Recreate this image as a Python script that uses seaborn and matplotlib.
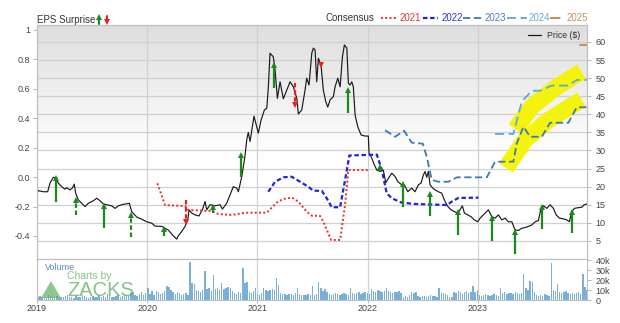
import numpy as np
import pandas as pd
import matplotlib
matplotlib.use("Agg")
import matplotlib.pyplot as plt
import seaborn as sns
from matplotlib.lines import Line2D
from matplotlib.patches import Polygon
from matplotlib.colors import LinearSegmentedColormap

# ---------------- data ----------------
price_t = [2019.000, 2019.012, 2019.057, 2019.097, 2019.118, 2019.148, 2019.170, 2019.193, 2019.224, 2019.254,
           2019.270, 2019.299, 2019.320, 2019.338, 2019.351, 2019.375, 2019.406, 2019.436, 2019.466, 2019.511,
           2019.542, 2019.572, 2019.602, 2019.632, 2019.678, 2019.708, 2019.738, 2019.769, 2019.799, 2019.838,
           2019.859, 2019.905, 2019.950, 2019.995, 2020.041, 2020.071, 2020.132, 2020.191, 2020.237, 2020.268,
           2020.282, 2020.313, 2020.343, 2020.368, 2020.379, 2020.404, 2020.434, 2020.470, 2020.500, 2020.525,
           2020.540, 2020.570, 2020.615, 2020.661, 2020.682, 2020.721, 2020.751, 2020.781, 2020.812, 2020.827,
           2020.858, 2020.887, 2020.903, 2020.917, 2020.933, 2020.969, 2021.008, 2021.033, 2021.063, 2021.085,
           2021.099, 2021.114, 2021.144, 2021.160, 2021.181, 2021.205, 2021.235, 2021.266, 2021.296, 2021.326,
           2021.357, 2021.371, 2021.402, 2021.432, 2021.447, 2021.468, 2021.493, 2021.507, 2021.523, 2021.538,
           2021.553, 2021.577, 2021.598, 2021.620, 2021.638, 2021.659, 2021.689, 2021.704, 2021.729, 2021.750,
           2021.771, 2021.789, 2021.811, 2021.825, 2021.840, 2021.856, 2021.870, 2021.886, 2021.910, 2021.940,
           2021.976, 2022.006, 2022.013, 2022.037, 2022.061, 2022.083, 2022.113, 2022.142, 2022.164, 2022.188,
           2022.219, 2022.249, 2022.273, 2022.309, 2022.333, 2022.364, 2022.400, 2022.430, 2022.460, 2022.485,
           2022.505, 2022.521, 2022.536, 2022.551, 2022.566, 2022.591, 2022.612, 2022.641, 2022.672, 2022.696,
           2022.727, 2022.757, 2022.787, 2022.818, 2022.838, 2022.859, 2022.878, 2022.908, 2022.938, 2022.968,
           2022.999, 2023.020, 2023.065, 2023.095, 2023.126, 2023.156, 2023.186, 2023.217, 2023.247, 2023.277,
           2023.308, 2023.338, 2023.368, 2023.398, 2023.428, 2023.458, 2023.489, 2023.519, 2023.549, 2023.571,
           2023.595, 2023.625, 2023.655, 2023.685, 2023.710, 2023.740, 2023.776, 2023.807, 2023.830, 2023.852,
           2023.876, 2023.912, 2023.943, 2023.964, 2023.988]
price_v = [18.2, 18.9, 18.6, 18.6, 21.0, 22.6, 22.3, 21.0, 20.0, 19.3,
           19.7, 19.1, 19.6, 20.7, 18.2, 16.3, 15.4, 14.5, 15.4, 16.1,
           16.8, 16.1, 15.2, 15.0, 14.7, 14.0, 14.7, 15.0, 15.2, 15.4,
           13.1, 11.6, 11.0, 10.3, 9.9, 9.1, 9.0, 8.0, 6.4, 5.5,
           6.4, 7.6, 9.0, 10.8, 13.6, 12.7, 12.2, 11.9, 13.6, 15.9,
           13.6, 15.0, 14.7, 15.0, 13.8, 15.4, 17.7, 20.0, 19.6, 18.6,
           22.8, 28.5, 33.0, 35.0, 32.5, 39.5, 34.8, 38.4, 41.2, 41.7,
           47.6, 56.9, 55.9, 52.3, 44.4, 49.0, 44.3, 46.7, 49.0, 47.6,
           44.4, 40.1, 41.2, 46.7, 50.0, 48.1, 56.9, 58.3, 57.8, 49.0,
           55.5, 53.6, 46.7, 43.5, 42.0, 44.0, 44.9, 47.6, 50.0, 47.6,
           55.9, 59.2, 58.3, 48.6, 48.1, 49.0, 47.6, 39.8, 36.6, 34.3,
           34.0, 34.0, 29.2, 27.9, 26.0, 24.6, 24.2, 24.6, 21.1, 22.3,
           23.7, 22.8, 21.4, 20.5, 20.5, 18.6, 19.6, 18.6, 20.5, 21.0,
           23.2, 24.2, 22.6, 24.2, 20.5, 19.6, 19.1, 18.6, 18.2, 16.3,
           14.5, 13.6, 13.1, 12.7, 13.6, 14.7, 12.7, 12.2, 11.7, 10.8,
           10.3, 11.3, 12.7, 13.6, 11.7, 11.3, 12.2, 10.8, 11.3, 10.3,
           10.3, 8.0, 7.9, 8.5, 8.7, 9.0, 9.4, 10.3, 10.6, 13.8,
           14.7, 14.0, 15.0, 14.0, 12.2, 11.3, 11.1, 10.8, 10.3, 13.1,
           14.0, 14.2, 14.3, 15.0, 15.2]

# EPS surprise arrows (left axis, EPS $): consensus (tail) -> actual (head)
eps_t = [2019.170, 2019.354, 2019.608, 2019.853, 2020.155, 2020.349, 2020.594, 2020.851, 2021.153, 2021.341,
         2021.577, 2021.825, 2022.113, 2022.324, 2022.569, 2022.818, 2023.126, 2023.338, 2023.580, 2023.852]
eps_cons = [-0.167, -0.258, -0.348, -0.409, -0.400, -0.156, -0.242, -0.002, 0.601, 0.635,
            0.775, 0.436, 0.036, -0.205, -0.264, -0.393, -0.432, -0.522, -0.355, -0.382]
eps_actual = [-0.009, -0.156, -0.195, -0.258, -0.355, -0.303, -0.205, 0.149, 0.759, 0.488,
              0.759, 0.590, 0.070, -0.047, -0.115, -0.235, -0.280, -0.371, -0.205, -0.235]
eps_dashed = [0, 1, 0, 1, 0, 1, 0, 0, 0, 1, 0, 0, 0, 0, 0, 0, 0, 0, 0, 0]

# Consensus estimate lines (left axis, EPS $)
c2021_t = [2020.092, 2020.162, 2020.343, 2020.373, 2020.585, 2020.645, 2020.767, 2020.887, 2021.084, 2021.175,
           2021.232, 2021.314, 2021.371, 2021.447, 2021.493, 2021.568, 2021.598, 2021.643, 2021.668, 2021.750,
           2021.795, 2021.825, 2022.006]
c2021_v = [-0.043, -0.190, -0.197, -0.224, -0.231, -0.251, -0.258, -0.242, -0.242, -0.174,
           -0.149, -0.140, -0.167, -0.235, -0.262, -0.264, -0.303, -0.382, -0.427, -0.427,
           -0.190, 0.047, 0.047]
c2022_t = [2021.099, 2021.160, 2021.235, 2021.311, 2021.387, 2021.462, 2021.507, 2021.583, 2021.629, 2021.674,
           2021.750, 2021.795, 2021.834, 2022.083, 2022.128, 2022.173, 2022.219, 2022.309, 2022.430, 2022.718,
           2022.763, 2022.823, 2023.005]
c2022_v = [-0.100, -0.032, -0.002, 0.002, -0.032, -0.066, -0.093, -0.093, -0.144, -0.205,
           -0.205, -0.020, 0.146, 0.152, 0.050, -0.110, -0.144, -0.174, -0.183, -0.190,
           -0.167, -0.142, -0.140]
c2023_t = [2022.158, 2022.249, 2022.330, 2022.400, 2022.500, 2022.536, 2022.582, 2022.641, 2022.732, 2022.811,
           2023.081, 2023.156, 2023.322, 2023.353, 2023.413, 2023.474, 2023.580, 2023.655, 2023.821, 2023.897,
           2023.988]
c2023_v = [0.317, 0.273, 0.314, 0.233, 0.226, 0.138, -0.020, -0.032, -0.032, -0.002,
           -0.002, 0.104, 0.104, 0.228, 0.341, 0.273, 0.273, 0.368, 0.368, 0.473,
           0.473]
c2024_t = [2023.156, 2023.322, 2023.398, 2023.489, 2023.564, 2023.670, 2023.821, 2023.897, 2023.988]
c2024_v = [0.292, 0.292, 0.511, 0.585, 0.585, 0.620, 0.620, 0.658, 0.658]
c2025_t = [2023.927, 2023.990]
c2025_v = [0.895, 0.895]

# yellow highlighter strokes
hl_a_t = [2023.340, 2023.489, 2023.700, 2023.940]
hl_a_v = [0.325, 0.477, 0.603, 0.715]
hl_b_t = [2023.255, 2023.428, 2023.640, 2023.940]
hl_b_v = [0.062, 0.251, 0.386, 0.525]

# weekly volume (thousands)
volume_k = [3, 4, 3, 2, 3, 5, 4, 3, 3, 4, 2, 3, 3, 4, 5, 3, 3, 2, 4, 3, 3, 5, 4, 3, 2, 3, 4, 3, 3, 5,
            3, 4, 3, 6, 4, 3, 3, 4, 5, 3, 4, 6, 5, 4, 7,
            8, 5, 4, 6, 8, 5, 7, 12, 6, 9, 5, 9, 8, 6, 7, 9,
            14, 13, 10, 8, 6, 8, 7, 5, 6, 7, 5,
            38,
            17, 16, 10, 9, 8, 10, 29, 11,
            12, 9, 25, 11, 12, 10, 17, 11, 12,
            13, 12, 9, 7, 6, 8, 7,
            32, 17, 18,
            8, 7, 9, 12, 6, 5, 7,
            12, 10, 9, 10, 11, 10,
            22, 15,
            7, 6, 6, 5, 6, 6, 5, 7,
            12,
            6, 5, 5, 5, 6, 5,
            14, 5, 6, 18, 12, 9, 11, 8,
            6, 5, 6, 7, 6, 5, 6, 7, 6, 5,
            12,
            7, 6, 7, 8, 6, 7, 8, 7, 6,
            11, 9, 8, 10, 9, 8, 9,
            12, 9, 8, 7, 8, 8, 9, 7,
            3, 4, 3, 5,
            8, 7, 8, 4,
            3, 4, 4, 3, 4, 5, 4, 4, 3,
            12, 7, 7, 6, 5, 3, 3,
            8, 7, 9, 8, 6, 8, 9, 7, 8,
            14, 8, 10,
            5, 4, 5, 6, 5, 4, 5, 6, 5, 4,
            12, 7, 8, 6, 7, 7, 6, 8, 7, 6, 7,
            26, 12, 10, 19, 18, 8,
            5, 4, 5, 4, 6, 5, 4,
            37, 10, 9, 16, 8, 7, 8, 9,
            7, 6, 7, 6, 7, 8, 6,
            26, 13, 10]

years = [2019, 2020, 2021, 2022, 2023]
price_ticks = [5, 10, 15, 20, 25, 30, 35, 40, 45, 50, 55, 60]
eps_ticks = [1.0, 0.8, 0.6, 0.4, 0.2, 0.0, -0.2, -0.4]
eps_labels = ["1", "0.8", "0.6", "0.4", "0.2", "0.0", "-0.2", "-0.4"]
vol_ticks = [0, 10, 20, 30, 40]
vol_labels = ["0", "10k", "20k", "30k", "40k"]

# ---------------- figure ----------------
sns.set_theme(style="white")
plt.rcParams['font.family'] = ['Liberation Sans', 'DejaVu Sans']

W, H = 620, 323
fig = plt.figure(figsize=(W / 100, H / 100), dpi=100)
fig.patch.set_facecolor("white")

X0, X1 = 37, 587
ax = fig.add_axes([X0 / W, 1 - 259 / H, (X1 - X0) / W, (259 - 25) / H])   # price (right)
axE = ax.twinx()                                                          # EPS (left)
ax.yaxis.tick_right()
axE.yaxis.tick_left()
axv = fig.add_axes([X0 / W, 1 - 300 / H, (X1 - X0) / W, (300 - 259) / H])  # volume

XL = (2019.0, 2023.99)
GRID = "#d0d0d0"
TXT = "#444444"

# background gradient
cmap = LinearSegmentedColormap.from_list("bg", [(0, "#ffffff"), (0.45, "#ffffff"), (1, "#dedede")])
ax.imshow(np.linspace(0, 1, 256).reshape(-1, 1), extent=[0, 1, 0, 1], transform=ax.transAxes,
          cmap=cmap, aspect="auto", origin="lower", zorder=0)

# price line
sns.lineplot(x=price_t, y=price_v, ax=ax, sort=False, estimator=None, color="#1a1a1a", lw=0.85, zorder=3)
ax.set_xlim(*XL)
ax.set_ylim(0, 64.7)
ax.set_yticks(price_ticks)
ax.set_yticklabels([str(v) for v in price_ticks])
ax.set_xticks(years)
ax.set_xticklabels([])
ax.grid(True, color=GRID, lw=0.9)
ax.set_axisbelow(True)
ax.tick_params(axis="y", right=True, length=3, width=0.6, color="#aaaaaa", labelsize=6.5, labelcolor=TXT, pad=3)
ax.tick_params(axis="x", bottom=False, length=0)
ax.set_xlabel("")
ax.set_ylabel("")

# EPS axis
axE.set_xlim(*XL)
axE.set_ylim(-0.556, 1.031)
axE.set_yticks(eps_ticks)
axE.set_yticklabels(eps_labels)
axE.tick_params(axis="y", left=True, right=False, length=3, width=0.6, color="#aaaaaa",
                labelsize=6.5, labelcolor=TXT, pad=2)
axE.grid(False)

# highlighter strokes
axE.plot(hl_a_t, hl_a_v, color="#f4f400", lw=12, alpha=0.95, solid_capstyle="butt",
         solid_joinstyle="round", zorder=1)
axE.plot(hl_b_t, hl_b_v, color="#f4f400", lw=12, alpha=0.95, solid_capstyle="butt",
         solid_joinstyle="round", zorder=1)

# consensus lines
axE.plot(c2021_t, c2021_v, color="#ee2a2a", lw=1.4, ls=(0, (1, 1.2)), zorder=2)
axE.plot(c2022_t, c2022_v, color="#2222dd", lw=1.6, ls=(0, (2, 1.2)), zorder=2)
axE.plot(c2023_t, c2023_v, color="#3f78b8", lw=1.3, ls=(0, (4, 2)), zorder=2)
axE.plot(c2024_t, c2024_v, color="#5fa8da", lw=1.3, ls=(0, (5, 2.5)), zorder=2)
axE.plot(c2025_t, c2025_v, color="#c4935e", lw=1.5, zorder=2)

# EPS surprise arrows
for t, c, a, d in zip(eps_t, eps_cons, eps_actual, eps_dashed):
    up = a >= c
    col = "#1b8a1b" if up else "#ee1c1c"
    axE.plot([t, t], [c, a], color=col, lw=1.6, ls=(0, (2, 1.2)) if d else "-", zorder=4,
             solid_capstyle="butt")
    axE.plot([t], [a], marker="^" if up else "v", color=col, ms=5, mew=0, zorder=5)

for a_ in (ax, axE):
    for s in a_.spines.values():
        s.set_color("#c0c0c0")
        s.set_linewidth(0.8)

# volume
vol_dates = pd.date_range("2019-01-04", periods=len(volume_k), freq="7D")
vol_t = vol_dates.year + (vol_dates.dayofyear - 1) / 365.25
axv.bar(vol_t, volume_k, width=0.0125, color="#7aafd8", edgecolor="none", zorder=2)
axv.set_xlim(*XL)
axv.set_ylim(0, 41)
axv.yaxis.tick_right()
axv.set_yticks(vol_ticks)
axv.set_yticklabels(vol_labels)
axv.set_xticks(years)
axv.set_xticklabels([str(y) for y in years])
axv.grid(True, axis="x", color=GRID, lw=0.9)
axv.set_axisbelow(True)
axv.tick_params(axis="y", right=True, length=3, width=0.6, color="#aaaaaa", labelsize=6.5, labelcolor=TXT, pad=3)
axv.tick_params(axis="x", bottom=True, length=2, width=0.6, color="#aaaaaa", labelsize=6.5, labelcolor=TXT, pad=1)
for s in axv.spines.values():
    s.set_color("#c0c0c0")
    s.set_linewidth(0.8)

# ---------------- legends / labels ----------------
def fl(x0, x1, y, **kw):
    fig.add_artist(Line2D([x0 / W, x1 / W], [1 - y / H, 1 - y / H], transform=fig.transFigure, **kw))

def ft(x, y, s, **kw):
    kw.setdefault("fontsize", 7)
    kw.setdefault("va", "center")
    kw.setdefault("ha", "left")
    fig.text(x / W, 1 - y / H, s, **kw)

ft(37, 20, "EPS Surprise", color="#333333")
fig.add_artist(Line2D([99 / W, 99 / W], [1 - 24 / H, 1 - 17 / H], transform=fig.transFigure, color="#1b8a1b", lw=1.5))
fig.add_artist(Line2D([99 / W], [1 - 17 / H], transform=fig.transFigure, marker="^", color="#1b8a1b", ms=4.5, mew=0))
fig.add_artist(Line2D([107 / W, 107 / W], [1 - 16 / H, 1 - 22 / H], transform=fig.transFigure, color="#ee1c1c", lw=1.5))
fig.add_artist(Line2D([107 / W], [1 - 22 / H], transform=fig.transFigure, marker="v", color="#ee1c1c", ms=4.5, mew=0))

ft(325, 18, "Consensus", color="#333333")
fl(381, 396, 18, color="#ee2a2a", lw=1.4, ls=(0, (1, 1.2)))
ft(400, 18, "2021", color="#e03a3a")
fl(423, 438, 18, color="#2222dd", lw=1.6, ls=(0, (2, 1.2)))
ft(442, 18, "2022", color="#3333cc")
fl(463, 483, 18, color="#3f78b8", lw=1.3, ls=(0, (4, 2)))
ft(485, 18, "2023", color="#4f7fbf")
fl(507, 527, 18, color="#5fa8da", lw=1.3, ls=(0, (5, 2.5)))
ft(529, 18, "2024", color="#6aaede")
fl(550, 565, 18, color="#c4935e", lw=1.5, ls=(0, (5, 2.5)))
ft(567, 18, "2025", color="#c4935e")

fl(528, 541, 35, color="#1a1a1a", lw=0.9)
ft(547, 35, "Price ($)", fontsize=6.3, color="#333333")

ft(45, 268, "Volume", fontsize=6.5, color="#5a8ac6")
ft(67, 276, "Charts by", fontsize=7.5, color="#5fae5f", alpha=0.75)
ft(67, 290, "ZACKS", fontsize=14.5, color="#5fae5f", alpha=0.75)
fig.add_artist(Polygon([[41 / W, 1 - 298 / H], [61 / W, 1 - 298 / H], [51 / W, 1 - 281 / H]],
                       closed=True, transform=fig.transFigure, facecolor="#5fae5f", alpha=0.7,
                       edgecolor="none"))

fig.savefig("out.png", dpi=100)
